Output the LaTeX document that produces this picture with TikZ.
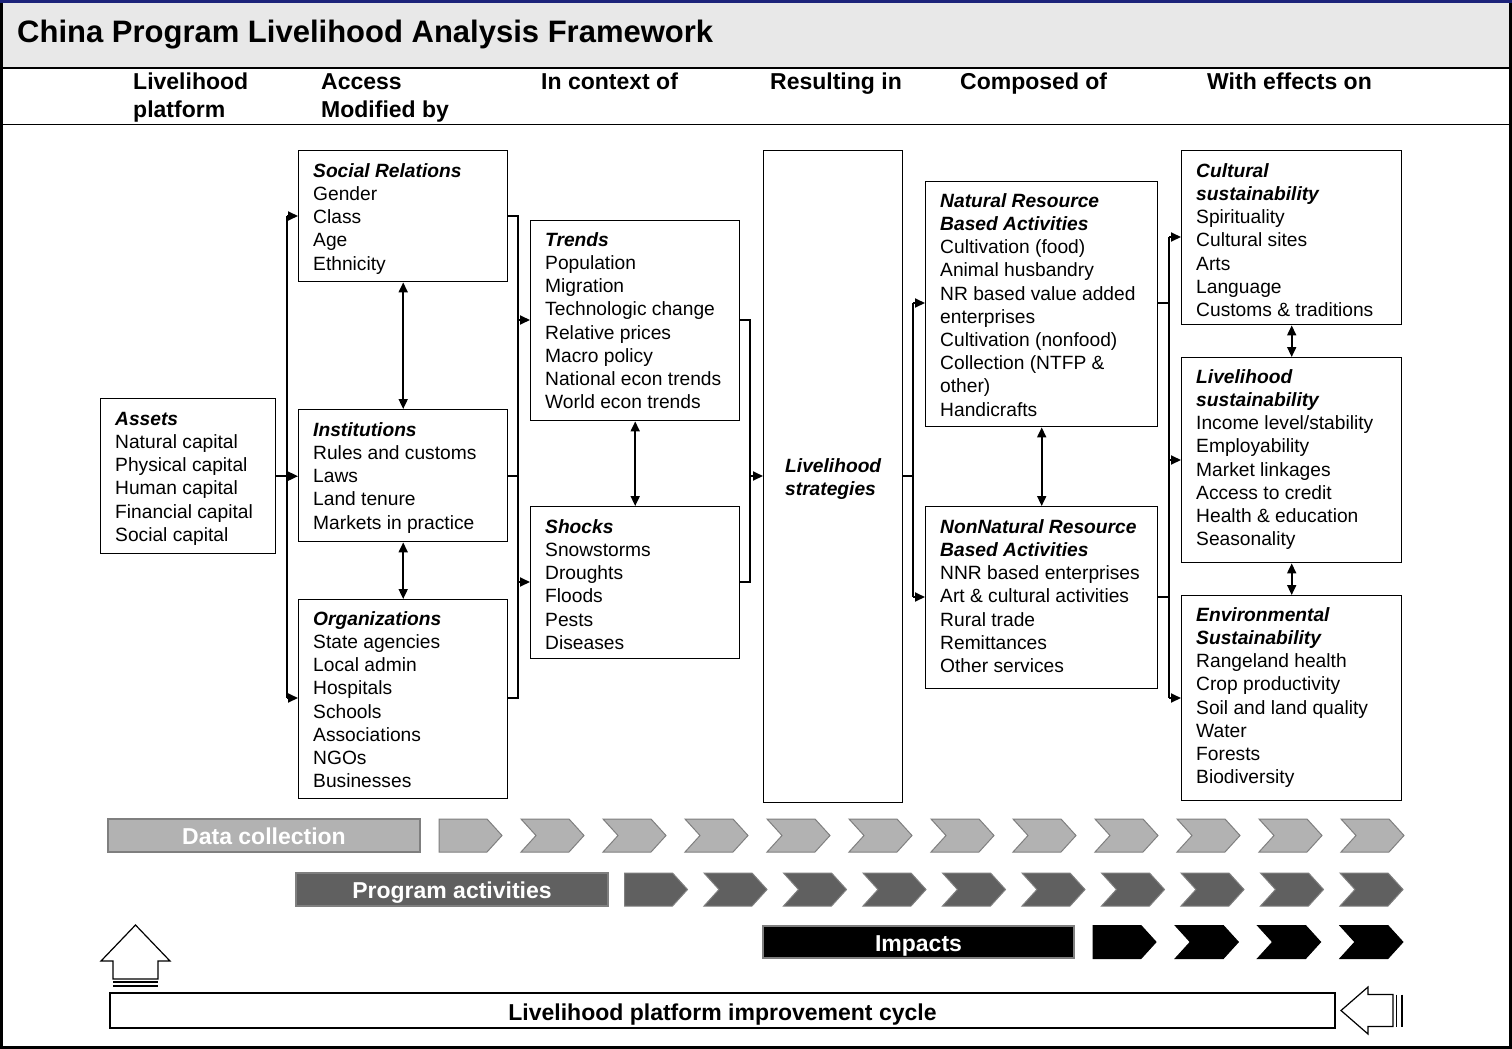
\documentclass[tikz,border=0pt]{standalone}
\usepackage{fontspec}
\setmainfont{Liberation Sans}
\usetikzlibrary{arrows.meta}
\definecolor{band}{HTML}{E8E8E8}
\definecolor{navy}{HTML}{1C237A}
\definecolor{lgray}{HTML}{B2B2B2}
\definecolor{dgray}{HTML}{606060}
\definecolor{edgegray}{HTML}{7F7F7F}
\newcommand\homeplate[4]{\filldraw[fill=#3,draw=#4,line width=1pt,line join=miter] (#1,#2) -- ++(48,0) -- ++(15,16.5) -- ++(-15,16.5) -- ++(-48,0) -- cycle;}
\newcommand\chevron[4]{\filldraw[fill=#3,draw=#4,line width=1pt,line join=miter] (#1,#2) -- ++(48,0) -- ++(15,16.5) -- ++(-15,16.5) -- ++(-48,0) -- ++(15,-16.5) -- cycle;}
\begin{document}
\begin{tikzpicture}[x=1pt,y=-1pt,
  box/.style={draw=black, line width=1.4pt, fill=white, inner sep=0pt, anchor=north west},
  txt/.style={anchor=north west, inner sep=0pt, align=left, font=\fontsize{19.2}{23.2}\selectfont},
  hdr/.style={anchor=north west, inner sep=0pt, align=left, font=\fontsize{23}{28}\selectfont\bfseries},
  conn/.style={line width=1.8pt},
  arr/.style={conn, -{Triangle[length=10pt,width=9pt]}},
  darr/.style={conn, {Triangle[length=10pt,width=9pt]}-{Triangle[length=10pt,width=9pt]}},
  bar/.style={draw=edgegray, line width=1.2pt, inner sep=0pt, text=white, text height=18.5pt, text depth=0pt, font=\fontsize{23}{28}\selectfont\bfseries},
]
\useasboundingbox (0,0) rectangle (1512,1049);
% frame
\fill[white] (0,0) rectangle (1512,1049);
\fill[band] (3,3) rectangle (1509,68);
\draw[line width=1.8pt] (3,68) -- (1509,68);
\draw[line width=1.5pt] (3,124.5) -- (1509,124.5);
\draw[line width=3pt] (1.5,2) rectangle (1510.5,1047.5);
\fill[navy] (0,0) rectangle (1512,2.8);

\node[anchor=base west, inner sep=0pt, font=\fontsize{31}{37}\selectfont\bfseries] (title) at (17,43) {China Program Livelihood Analysis Framework};

\node[hdr] (h1) at (133,69.9) {\strut Livelihood\\platform};
\node[hdr] (h2) at (321,69.9) {\strut Access\\Modified by};
\node[hdr] (h3) at (541,69.9) {\strut In context of};
\node[hdr] (h4) at (770,69.9) {\strut Resulting in};
\node[hdr] (h5) at (960,69.9) {\strut Composed of};
\node[hdr] (h6) at (1207,69.9) {\strut With effects on};

% boxes
\node[box, minimum width=175pt, minimum height=155pt] (assets) at (100,398) {};
\node[box, minimum width=209pt, minimum height=131pt] (soc) at (298,150) {};
\node[box, minimum width=209pt, minimum height=132pt] (inst) at (298,409) {};
\node[box, minimum width=209pt, minimum height=199pt] (org) at (298,599) {};
\node[box, minimum width=209pt, minimum height=200pt] (trends) at (530,220) {};
\node[box, minimum width=209pt, minimum height=152pt] (shocks) at (530,506) {};
\node[box, minimum width=139pt, minimum height=652pt] (ls) at (763,150) {};
\node[box, minimum width=232pt, minimum height=245pt] (nr) at (925,181) {};
\node[box, minimum width=232pt, minimum height=182pt] (nnr) at (925,506) {};
\node[box, minimum width=220pt, minimum height=174pt] (cult) at (1181,150) {};
\node[box, minimum width=220pt, minimum height=205pt] (lsus) at (1181,357) {};
\node[box, minimum width=220pt, minimum height=205pt] (env) at (1181,595) {};

% texts
\node[txt] (assets-t) at (115,408.8) {\strut\textbf{\textit{Assets}}\\Natural capital\\Physical capital\\Human capital\\Financial capital\\Social capital};
\node[txt] (soc-t) at (313,160.8) {\strut\textbf{\textit{Social Relations}}\\Gender\\Class\\Age\\Ethnicity};
\node[txt] (inst-t) at (313,419.8) {\strut\textbf{\textit{Institutions}}\\Rules and customs\\Laws\\Land tenure\\Markets in practice};
\node[txt] (org-t) at (313,608.8) {\strut\textbf{\textit{Organizations}}\\State agencies\\Local admin\\Hospitals\\Schools\\Associations\\NGOs\\Businesses};
\node[txt] (trends-t) at (545,229.8) {\strut\textbf{\textit{Trends}}\\Population\\Migration\\Technologic change\\Relative prices\\Macro policy\\National econ trends\\World econ trends};
\node[txt] (shocks-t) at (545,516.8) {\strut\textbf{\textit{Shocks}}\\Snowstorms\\Droughts\\Floods\\Pests\\Diseases};
\node[txt] (ls-t) at (785,455.8) {\strut\textbf{\textit{Livelihood}}\\\textbf{\textit{strategies}}};
\node[txt] (nr-t) at (940,190.8) {\strut\textbf{\textit{Natural Resource}}\\\textbf{\textit{Based Activities}}\\Cultivation (food)\\Animal husbandry\\NR based value added\\enterprises\\Cultivation (nonfood)\\Collection (NTFP \&\\other)\\Handicrafts};
\node[txt] (nnr-t) at (940,516.8) {\strut\textbf{\textit{NonNatural Resource}}\\\textbf{\textit{Based Activities}}\\NNR based enterprises\\Art \& cultural activities\\Rural trade\\Remittances\\Other services};
\node[txt] (cult-t) at (1196,160.8) {\strut\textbf{\textit{Cultural}}\\\textbf{\textit{sustainability}}\\Spirituality\\Cultural sites\\Arts\\Language\\Customs \& traditions};
\node[txt] (lsus-t) at (1196,366.8) {\strut\textbf{\textit{Livelihood}}\\\textbf{\textit{sustainability}}\\Income level/stability\\Employability\\Market linkages\\Access to credit\\Health \& education\\Seasonality};
\node[txt] (env-t) at (1196,604.8) {\strut\textbf{\textit{Environmental}}\\\textbf{\textit{Sustainability}}\\Rangeland health\\Crop productivity\\Soil and land quality\\Water\\Forests\\Biodiversity};

% bus 1
\coordinate (b1t) at (287,216);
\coordinate (b1b) at (287,698);
\draw[conn] (b1t) -- (b1b);
\draw[arr] (b1t) -- (b1t -| soc.west);
\draw[arr] (b1b) -- (b1b -| org.west);
\draw[arr] (assets.east) -- (assets.east -| inst.west);
% bus 2
\coordinate (b2t) at (518,216);
\coordinate (b2b) at (518,698);
\coordinate (b2u) at (518,320);
\coordinate (b2l) at (518,582);
\draw[conn] (b2t -| soc.east) -- (b2t) -- (b2b) -- (b2b -| org.east);
\draw[conn] (inst.east) -- (inst.east -| b2t);
\draw[arr] (b2u) -- (b2u -| trends.west);
\draw[arr] (b2l) -- (b2l -| shocks.west);
% bus 3
\coordinate (b3t) at (750,320);
\coordinate (b3b) at (750,582);
\coordinate (b3m) at (750,476);
\draw[conn] (b3t -| trends.east) -- (b3t) -- (b3b) -- (b3b -| shocks.east);
\draw[arr] (b3m) -- (b3m -| ls.west);
% bus 4
\coordinate (b4t) at (913,303);
\coordinate (b4b) at (913,597);
\coordinate (b4m) at (913,476);
\draw[conn] (b4t) -- (b4b);
\draw[conn] (b4m -| ls.east) -- (b4m);
\draw[arr] (b4t) -- (b4t -| nr.west);
\draw[arr] (b4b) -- (b4b -| nnr.west);
% bus 5
\coordinate (b5t) at (1169,237);
\coordinate (b5b) at (1169,698);
\coordinate (b5m) at (1169,460);
\coordinate (b5a) at (1169,303);
\coordinate (b5c) at (1169,597);
\draw[conn] (b5t) -- (b5b);
\draw[conn] (b5a -| nr.east) -- (b5a);
\draw[conn] (b5c -| nnr.east) -- (b5c);
\draw[arr] (b5t) -- (b5t -| cult.west);
\draw[arr] (b5m) -- (b5m -| lsus.west);
\draw[arr] (b5b) -- (b5b -| env.west);
% double arrows
\draw[darr] (soc.south) -- (inst.north);
\draw[darr] (inst.south) -- (org.north);
\draw[darr] (trends.south) -- (shocks.north);
\draw[darr] (nr.south) -- (nnr.north);
\draw[darr] (cult.south) -- (lsus.north);
\draw[darr] (lsus.south) -- (env.north);

% bottom bars
\node[bar, fill=lgray, minimum width=312pt, minimum height=33pt] (dc) at (264,835.5) {Data collection};
\node[bar, fill=dgray, minimum width=312pt, minimum height=33pt] (pa) at (452,889.5) {Program activities};
\node[bar, fill=black, minimum width=311pt, minimum height=32pt] (imp) at (918.5,942) {Impacts};

\homeplate{439}{819}{lgray}{edgegray}
\foreach \k in {1,...,11} {\chevron{439+82*\k}{819}{lgray}{edgegray}}
\homeplate{624.5}{873}{dgray}{edgegray}
\foreach \k in {1,...,9} {\chevron{624.5+79.5*\k}{873}{dgray}{edgegray}}
\homeplate{1093}{925.5}{black}{black}
\foreach \k in {1,...,3} {\chevron{1093+82.3*\k}{925.5}{black}{black}}

% improvement cycle
\node[draw=black, line width=1.5pt, fill=white, minimum width=1225pt, minimum height=35pt, inner sep=0pt, text height=19.5pt, text depth=0pt, font=\fontsize{23}{28}\selectfont\bfseries] (cycle) at (722.5,1010.5) {Livelihood platform improvement cycle};
% up arrow
\draw[line width=1.2pt, fill=white, line join=miter] (135.5,925) -- (170,961) -- (158,961) -- (158,979) -- (113,979) -- (113,961) -- (101,961) -- cycle;
\draw[line width=1.2pt] (113,982) -- (158,982);
\draw[line width=2pt] (113,985.5) -- (158,985.5);
% left arrow
\draw[line width=1.2pt, fill=white, line join=miter] (1341,1010.5) -- (1368,987) -- (1368,994.5) -- (1393,994.5) -- (1393,1026.5) -- (1368,1026.5) -- (1368,1034) -- cycle;
\draw[line width=1.5pt] (1396.5,994.5) -- (1396.5,1026.5);
\draw[line width=2pt] (1401.5,994.5) -- (1401.5,1026.5);
\end{tikzpicture}
\end{document}
